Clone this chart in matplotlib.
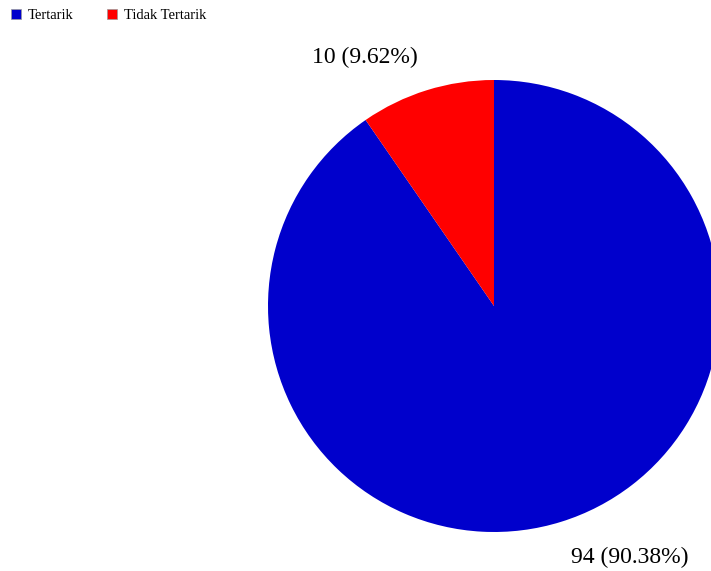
import matplotlib.pyplot as plt
from matplotlib.patches import Patch

categories = ['Tertarik', 'Tidak Tertarik']
counts = [94, 10]
colors = ['#0000CC', '#FF0000']

plt.rcParams['font.family'] = ['Liberation Serif', 'DejaVu Serif']

fig = plt.figure(figsize=(7.11, 5.71), dpi=100)
ax = fig.add_axes([0, 0, 1, 1])

# pie drawn clockwise from the top
wedges, _ = ax.pie(counts, colors=colors, startangle=90, counterclock=False,
                   center=(494, 265), radius=226,
                   wedgeprops={'linewidth': 0})
ax.set_xlim(0, 711)
ax.set_ylim(0, 571)
ax.set_aspect('equal')
ax.axis('off')

total = sum(counts)
label_pos = [(630, 14), (365, 514)]
for n, (x, y) in zip(counts, label_pos):
    ax.text(x, y, f'{n} ({n / total * 100:.2f}%)', fontsize=17,
            ha='center', va='center')

handles = [Patch(facecolor=c, edgecolor='#999999', linewidth=0.5) for c in colors]
ax.legend(handles, categories, loc='upper left', bbox_to_anchor=(-0.003, 1.007),
          ncol=2, frameon=False, fontsize=10.5, handlelength=0.7,
          handleheight=0.7, handletextpad=0.45, columnspacing=2.3)

plt.savefig('out.png', dpi=100)
